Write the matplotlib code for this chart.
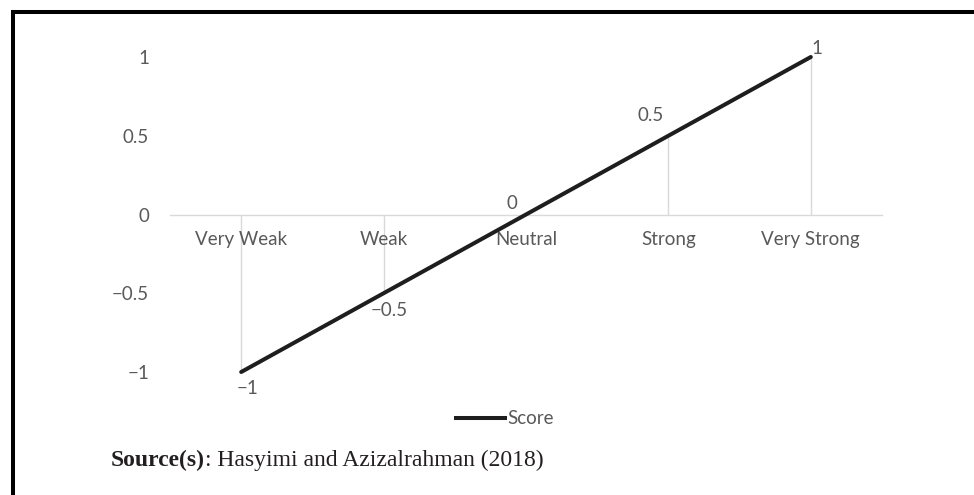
import matplotlib
matplotlib.use("Agg")
import matplotlib.pyplot as plt
from matplotlib.lines import Line2D

# data
categories = ["Very Weak", "Weak", "Neutral", "Strong", "Very Strong"]
scores = [-1, -0.5, 0, 0.5, 1]
score_labels = ["\u22121", "\u22120.5", "0", "0.5", "1"]
y_ticks = [-1, -0.5, 0, 0.5, 1]
y_tick_labels = ["\u22121", "\u22120.5", "0", "0.5", "1"]
series_name = "Score"
source_bold = "Source(s)"
source_rest = ": Hasyimi and Azizalrahman (2018)"

GRAY_TXT = "#595959"
GRAY_LINE = "#d9d9d9"
LINE_COL = "#1e1e1e"
FS = 13.5

plt.rcParams["font.family"] = ["Lato", "DejaVu Sans"]

DPI = 100
fig = plt.figure(figsize=(9.74, 4.95), dpi=DPI)
W, H = 974, 495
ax = fig.add_axes([170 / W, (H - 372) / H, (882 - 170) / W, (372 - 57) / H])

x = list(range(len(categories)))
ax.vlines(x, 0, scores, color=GRAY_LINE, linewidth=1.0, zorder=1)
ax.plot(x, scores, color=LINE_COL, linewidth=2.9, solid_capstyle="round",
        label=series_name, zorder=3, clip_on=False)

# data labels (offsets in pixels, per point like the Excel layout)
label_offsets = [(6, -16), (6, -17), (-14, 11), (-18, 20), (6, 9)]
for xi, yi, txt, (dx, dy) in zip(x, scores, score_labels, label_offsets):
    ax.annotate(txt, (xi, yi), xytext=(dx * 0.72, dy * 0.72),
                textcoords="offset points", ha="center", va="center",
                color=GRAY_TXT, fontsize=FS)

ax.set_xlim(-0.5, len(categories) - 0.5)
ax.set_ylim(-1, 1)
ax.set_yticks(y_ticks)
ax.set_yticklabels(y_tick_labels)
ax.set_xticks(x)
ax.set_xticklabels(categories)

for s in ["top", "right", "left"]:
    ax.spines[s].set_visible(False)
ax.spines["bottom"].set_position(("data", 0))
ax.spines["bottom"].set_color(GRAY_LINE)
ax.spines["bottom"].set_linewidth(1.0)
ax.spines["bottom"].set_zorder(0)
ax.tick_params(axis="both", length=0, colors=GRAY_TXT, labelsize=FS)
ax.tick_params(axis="y", pad=15)
ax.tick_params(axis="x", pad=12)
ax.patch.set_visible(False)

# legend
fig.legend(handles=[Line2D([0], [0], color=LINE_COL, linewidth=2.9)],
           labels=[series_name], loc="center", bbox_to_anchor=(505 / W, 1 - 419 / H),
           frameon=False, fontsize=FS, labelcolor=GRAY_TXT, handlelength=2.6,
           handletextpad=0.15, borderpad=0)

# source note
t = fig.text(111 / W, 1 - 460 / H, source_bold, fontsize=17, fontweight="bold",
             family="Liberation Serif", va="center", ha="left", color="#231f20")
fig.canvas.draw()
bb = t.get_window_extent()
fig.text(bb.x1 / W, 1 - 460 / H, source_rest, fontsize=17,
         family="Liberation Serif", va="center", ha="left", color="#231f20")

# frame edges (left and top of the boxed figure)
fig.add_artist(Line2D([13 / W, 13 / W], [0, 1 - 11.5 / H], color="black",
                      linewidth=2.9, solid_capstyle="butt"))
fig.add_artist(Line2D([11 / W, 1], [1 - 11.5 / H, 1 - 11.5 / H], color="black",
                      linewidth=2.9, solid_capstyle="butt"))

fig.savefig("out.png", dpi=DPI)
